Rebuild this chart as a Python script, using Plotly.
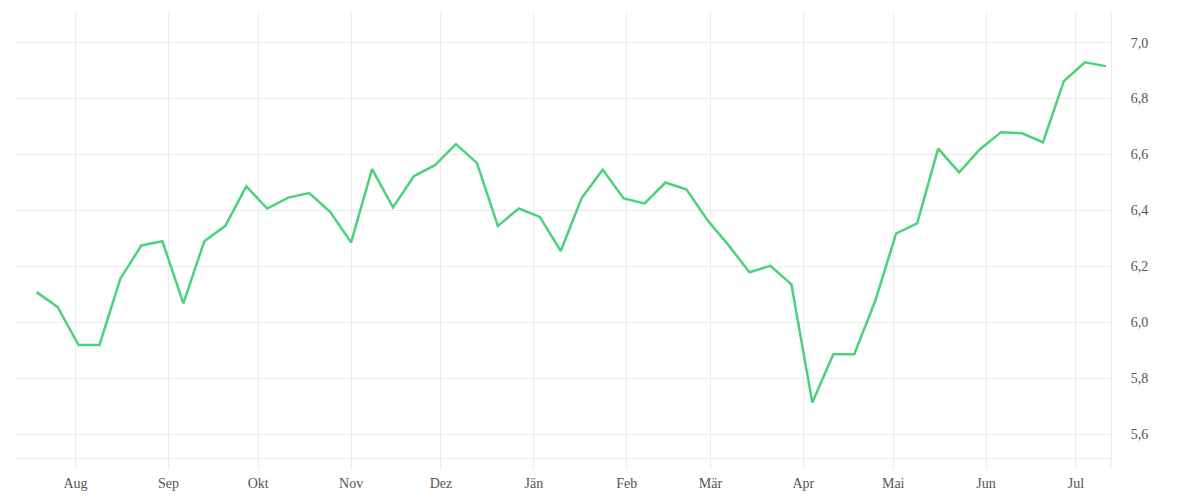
import pandas as pd
import plotly.graph_objects as go

# Weekly values
start_date = "2024-07-19"
values = [
    6.108, 6.055, 5.919, 5.919, 6.157, 6.275, 6.290, 6.068, 6.290, 6.345,
    6.486, 6.407, 6.446, 6.462, 6.395, 6.286, 6.548, 6.411, 6.523, 6.562,
    6.637, 6.570, 6.345, 6.407, 6.377, 6.255, 6.445, 6.546, 6.443, 6.425,
    6.500, 6.475, 6.365, 6.276, 6.179, 6.202, 6.136, 5.713, 5.886, 5.886,
    6.077, 6.318, 6.354, 6.621, 6.536, 6.619, 6.680, 6.676, 6.644, 6.863,
    6.930, 6.916,
]
dates = pd.date_range(start_date, periods=len(values), freq="7D")

month_ticks = ["2024-08-01", "2024-09-01", "2024-10-01", "2024-11-01", "2024-12-01",
               "2025-01-01", "2025-02-01", "2025-03-01", "2025-04-01", "2025-05-01",
               "2025-06-01", "2025-07-01"]
month_labels = ["Aug", "Sep", "Okt", "Nov", "Dez", "Jän", "Feb", "Mär", "Apr", "Mai",
                "Jun", "Jul"]
y_ticks = [5.6, 5.8, 6.0, 6.2, 6.4, 6.6, 6.8, 7.0]
y_labels = ["5,6", "5,8", "6,0", "6,2", "6,4", "6,6", "6,8", "7,0"]

grid = "#ebebeb"
font_col = "#555555"

fig = go.Figure()
fig.add_trace(go.Scatter(
    x=dates, y=values, mode="lines",
    line=dict(color="#4cd27c", width=2.5),
    hoverinfo="x+y",
))

fig.update_layout(
    width=1200, height=500,
    margin=dict(l=15, r=89, t=13, b=42),
    paper_bgcolor="white", plot_bgcolor="white",
    showlegend=False,
    font=dict(family="Liberation Serif", size=14, color=font_col),
    xaxis=dict(
        type="date",
        automargin=False,
        range=["2024-07-11 19:00", "2025-07-12 17:00"],
        tickvals=month_ticks, ticktext=month_labels,
        showgrid=True, gridcolor=grid, gridwidth=1,
        ticks="outside", ticklen=10, tickcolor=grid, tickwidth=1,
        ticklabelstandoff=2,
        showline=True, linecolor=grid, linewidth=1,
        zeroline=False,
        tickfont=dict(family="Liberation Serif", size=14, color=font_col),
    ),
    yaxis=dict(
        side="right",
        automargin=False,
        range=[5.515, 7.106],
        tickvals=y_ticks, ticktext=y_labels,
        showgrid=True, gridcolor=grid, gridwidth=1,
        ticks="outside", ticklen=16, tickcolor="rgba(0,0,0,0)",
        showline=True, linecolor=grid, linewidth=1,
        zeroline=False,
        tickfont=dict(family="Liberation Serif", size=14, color=font_col),
    ),
    shapes=[dict(type="line", xref="paper", yref="paper",
                 x0=1, x1=1, y0=-10/445, y1=0,
                 line=dict(color=grid, width=1))],
)

fig.write_html("out.html", config={"displayModeBar": False},
               post_script="document.body.style.margin='0';")
